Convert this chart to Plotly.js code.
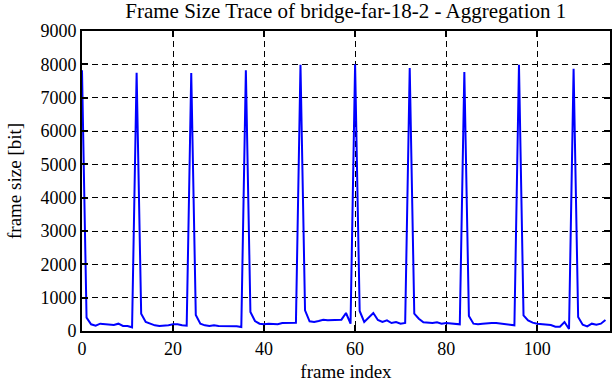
<!DOCTYPE html>
<html>
<head>
<meta charset="utf-8">
<script src="https://cdn.plot.ly/plotly-3.0.1.min.js"></script>
<style>
  html, body { margin: 0; padding: 0; background: #fff; }
  #chart { width: 612px; height: 382px; }
</style>
</head>
<body>
<div id="chart"></div>
<script>
// frame index 0..115
const frameIndex = Array.from({length: 116}, (_, i) => i);

// frame sizes [bit]
const frameSize = [
  // 0-11
  7820, 400, 200, 160, 220, 210, 210, 180, 220, 150, 150, 110,
  // 12-23
  7750, 520, 270, 220, 170, 150, 150, 170, 200, 200, 170, 160,
  // 24-35
  7740, 480, 220, 170, 150, 170, 150, 150, 140, 140, 140, 120,
  // 36-47
  7820, 570, 300, 220, 200, 220, 200, 200, 240, 240, 250, 250,
  // 48-59
  7990, 620, 290, 270, 300, 340, 320, 320, 340, 340, 540, 220,
  // 60-71
  8000, 600, 270, 420, 540, 330, 270, 320, 240, 270, 220, 240,
  // 72-83
  7890, 520, 370, 260, 250, 240, 260, 220, 240, 220, 220, 200,
  // 84-95
  7770, 450, 220, 200, 220, 240, 240, 240, 220, 200, 170, 170,
  // 96-107
  7990, 470, 320, 250, 220, 210, 200, 180, 130, 130, 270, 60,
  // 108-115
  7870, 420, 190, 140, 220, 190, 220, 330
];

const xTicks = [0, 20, 40, 60, 80, 100];
const yTicks = [0, 1000, 2000, 3000, 4000, 5000, 6000, 7000, 8000, 9000];

const serif = "'Liberation Serif', 'Times New Roman', serif";

const trace = {
  x: frameIndex,
  y: frameSize,
  type: "scatter",
  mode: "lines",
  line: { color: "#0000ff", width: 2 },
  hoverinfo: "skip"
};

const axisCommon = {
  showline: true,
  linecolor: "#000",
  linewidth: 2,
  mirror: "allticks",
  ticks: "inside",
  ticklen: 6,
  tickwidth: 2,
  tickcolor: "#000",
  showgrid: true,
  gridcolor: "#000",
  gridwidth: 1,
  griddash: "6px,4px",
  zeroline: false,
  tickfont: { family: serif, size: 18, color: "#000" }
};

const layout = {
  width: 612,
  height: 382,
  margin: { l: 82, r: 2, t: 31, b: 51 },
  paper_bgcolor: "#fff",
  plot_bgcolor: "#fff",
  showlegend: false,
  font: { family: serif, color: "#000" },
  title: {
    text: "Frame Size Trace of bridge-far-18-2 - Aggregation 1",
    font: { family: serif, size: 21, color: "#000" },
    x: 0.565, xanchor: "center",
    y: 0.972, yanchor: "middle"
  },
  xaxis: Object.assign({}, axisCommon, {
    range: [0, 116],
    tickmode: "array",
    tickvals: xTicks,
    ticktext: xTicks.map(String),
    title: { text: "frame index", font: { family: serif, size: 19, color: "#000" }, standoff: 8 }
  }),
  yaxis: Object.assign({}, axisCommon, {
    range: [0, 9000],
    tickmode: "array",
    tickvals: yTicks,
    ticktext: yTicks.map(String),
    title: { text: "frame size [bit]", font: { family: serif, size: 19, color: "#000" }, standoff: 14 }
  })
};

Plotly.newPlot("chart", [trace], layout, { staticPlot: true, displayModeBar: false });
</script>
</body>
</html>
